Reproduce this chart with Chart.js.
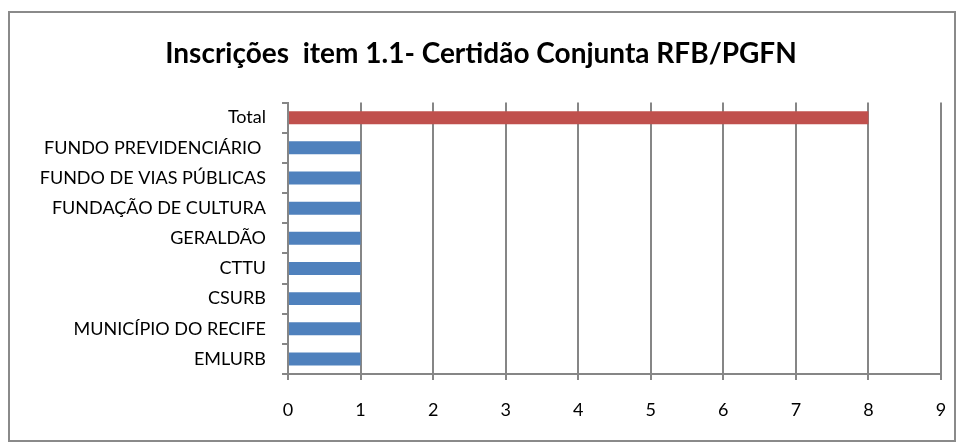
<!DOCTYPE html>
<html>
<head>
<meta charset="utf-8">
<script src="https://cdn.jsdelivr.net/npm/chart.js@4"></script>
<style>
  body { margin: 0; background: #fff; overflow: hidden; }
  #wrap { position: relative; width: 962px; height: 447px; }
  #barchart { display: block; }
  #frame { position: absolute; left: 8px; top: 11px; width: 944px; height: 427px;
           border: 2px solid #8a8a8a; pointer-events: none; }
</style>
</head>
<body>
<div id="wrap">
  <canvas id="barchart"></canvas>
  <div id="frame"></div>
</div>
<script>
// données
const categories = ['Total', 'FUNDO PREVIDENCIÁRIO ', 'FUNDO DE VIAS PÚBLICAS', 'FUNDAÇÃO DE CULTURA',
                    'GERALDÃO', 'CTTU', 'CSURB', 'MUNICÍPIO DO RECIFE', 'EMLURB'];
const inscricoes = [8, 1, 1, 1, 1, 1, 1, 1, 1];
const barColors = ['#C0504D', '#4F81BD', '#4F81BD', '#4F81BD', '#4F81BD', '#4F81BD', '#4F81BD', '#4F81BD', '#4F81BD'];
const xMin = 0, xMax = 9;
const titleText = 'Inscrições  item 1.1- Certidão Conjunta RFB/PGFN';

const gridColor = '#868686';
const fontFamily = 'Lato, "Open Sans", sans-serif';

function createBarChart() {
    const ctx = document.getElementById('barchart');

    new Chart(ctx, {
        type: 'bar',
        data: {
            labels: categories,
            datasets: [{
                data: inscricoes,
                backgroundColor: barColors,
                barPercentage: 0.43,
                categoryPercentage: 1
            }]
        },
        options: {
            indexAxis: 'y',
            responsive: true,
            maintainAspectRatio: false,
            animation: false,
            layout: { padding: 0 },
            scales: {
                x: {
                    min: xMin,
                    max: xMax,
                    ticks: { stepSize: 1, color: '#000', padding: 19, font: { family: fontFamily, size: 18 } },
                    grid: { color: gridColor, lineWidth: 2, tickLength: 6 },
                    border: { color: gridColor, width: 2 },
                    // marge droite fixée ici pour que le titre reste centré sur toute la largeur
                    afterFit: (scale) => {
                        scale.height = 73;
                        scale.paddingLeft = 0;
                        scale.paddingRight = 21;
                    }
                },
                y: {
                    ticks: { color: '#000', padding: 16, font: { family: fontFamily, size: 18 } },
                    grid: { drawOnChartArea: false, offset: true, color: gridColor, lineWidth: 2, tickLength: 6 },
                    border: { color: gridColor, width: 2 },
                    afterFit: (scale) => { scale.width = 288; }
                }
            },
            plugins: {
                legend: { display: false },
                tooltip: { enabled: false },
                title: {
                    display: true,
                    text: titleText,
                    color: '#000',
                    font: { family: fontFamily, size: 28, weight: 'bold' },
                    padding: { top: 37, bottom: 32 }
                }
            }
        }
    });
}

createBarChart();
</script>
</body>
</html>
